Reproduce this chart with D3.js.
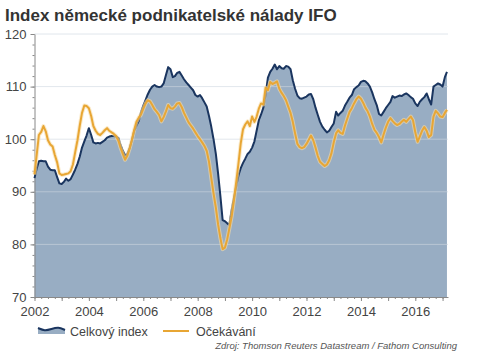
<!DOCTYPE html>
<html>
<head>
<meta charset="utf-8">
<script src="https://cdn.jsdelivr.net/npm/d3@7"></script>
<style>
  body { margin: 0; background: #fff; }
  svg { display: block; font-family: "Liberation Sans", Arial, sans-serif; }
  .axis text { font-size: 13px; fill: #444; }
  .axis path, .axis line { stroke: #888; }
</style>
</head>
<body>
<div id="chart"></div>
<script>
//////////
// DATA //
//////////

// monthly values, first month = January 2002
var firstMonth = new Date(2002, 0, 1);

var celkovyIndex = [
  92.6, 94.5, 95.8, 95.9, 95.8, 95.8, 94.8, 94.2, 94.1, 94.1, 92.8, 91.6,
  91.5, 91.9, 92.5, 92.1, 92.4, 93.3, 94.2, 95.3, 96.7, 98.4, 99.6, 100.7,
  102.1, 100.8, 99.4, 99.2, 99.3, 99.2, 99.5, 99.8, 100.3, 100.5, 100.6, 100.6,
  100.5, 100.2, 98.9, 97.8, 96.9, 97.2, 98.3, 99.8, 101.6, 102.6, 103.5, 105.1,
  106.4, 107.5, 108.5, 109.4, 110.0, 110.3, 110.0, 109.9, 110.0, 110.6, 112.2, 113.7,
  113.3, 111.8, 112.0, 112.6, 112.8, 112.1, 111.4, 110.8, 110.3, 109.8, 109.3, 108.4,
  108.1, 108.4, 107.8, 107.0, 106.2, 104.4, 102.4, 100.0, 97.2, 93.5, 89.2, 84.6,
  84.4, 84.0, 83.7, 86.5, 88.8, 91.0, 93.1, 94.5, 95.5, 96.3, 97.2, 97.6,
  98.4, 99.6, 101.5, 103.6, 104.7, 106.0, 108.5, 111.7, 112.8, 113.4, 114.2, 113.3,
  113.9, 113.5, 113.4, 113.9, 113.8, 113.3, 111.2, 109.6, 108.3, 107.8, 107.7, 107.9,
  108.1, 108.5, 108.6, 107.6, 106.0, 104.6, 103.3, 102.4, 101.8, 101.3, 101.6, 102.3,
  103.0, 105.2, 104.5, 105.0, 105.4, 106.4, 107.1, 107.9, 108.4, 109.5, 109.9, 110.2,
  110.9, 111.1, 111.0, 110.6, 110.0, 108.9, 107.6, 106.5, 104.8, 104.5, 105.2, 105.9,
  106.5, 107.1, 108.2, 107.9, 108.1, 108.3, 108.2, 108.5, 108.7, 108.4, 108.0, 107.7,
  106.8, 106.3, 107.1, 107.6, 108.0, 108.7, 107.6, 106.6, 110.0, 110.3, 110.6, 110.4,
  110.0, 111.8, 112.8
];

var ocekavani = [
  93.3, 97.2, 100.8, 101.4, 102.5, 101.5, 99.8, 99.0, 98.6, 97.0, 95.6, 93.5,
  93.2, 93.3, 93.4, 93.5, 93.9, 95.2, 97.5, 99.8, 102.6, 105.0, 106.4, 106.3,
  105.9, 104.4, 102.5, 101.6, 101.0, 100.8, 101.2, 101.7, 102.1, 101.6, 101.3, 101.0,
  100.6, 99.7, 98.4, 97.2, 96.1, 96.9, 98.2, 99.9, 101.8, 103.3, 104.1, 104.7,
  105.8, 106.8, 107.4, 107.2, 106.5, 105.7, 105.2, 104.6, 103.4, 104.2, 105.3, 106.5,
  105.9, 105.8, 106.2, 106.8, 106.9, 106.1, 105.0, 104.1, 103.2, 102.6, 102.0, 101.3,
  100.6, 100.0, 99.4, 98.7, 97.8, 95.7, 92.7, 89.7, 87.0, 83.8, 81.2, 79.1,
  79.4, 81.0, 83.0, 85.3, 88.3, 91.8, 95.3, 99.2, 101.9, 102.8, 103.4, 102.5,
  104.3, 103.3, 104.2, 105.8, 106.8, 106.6, 109.8, 109.3, 110.9, 110.5, 110.7, 111.0,
  109.6, 108.8, 108.2, 107.4, 106.2, 105.0, 103.3, 101.1, 99.1, 98.5, 98.3, 98.5,
  99.1, 99.9, 100.7, 99.8, 98.4, 96.8, 95.7, 95.3, 94.9, 95.2, 96.0, 97.3,
  99.4, 101.1, 101.7, 101.2, 101.0, 102.6, 103.9, 105.2, 105.9, 106.8, 107.6, 108.1,
  107.7, 106.9, 106.0, 105.3, 104.3, 102.9, 101.8, 101.2, 100.4, 99.4, 100.9, 102.2,
  103.3, 104.0, 103.5, 103.0, 102.7, 102.9, 103.3, 103.7, 103.3, 103.8, 104.3, 103.6,
  101.3, 99.5, 100.5, 101.6, 102.3, 101.6, 100.4, 100.8, 104.3, 105.4, 104.9, 104.3,
  104.2, 105.0, 105.6
];

var yTicks = [70, 80, 90, 100, 110, 120];
var xTickYears = [2002, 2004, 2006, 2008, 2010, 2012, 2014, 2016];
var seriesNames = ["Celkový index", "Očekávání"];

var titleText = "Index německé podnikatelské nálady IFO";
var sourceText = "Zdroj: Thomson Reuters Datastream / Fathom Consulting";

//////////////////////////////
// SVG AND GRAPH DIMENSIONS //
//////////////////////////////

var svgWidth = 500, svgHeight = 354;
var margin = { top: 34, right: 52, bottom: 57, left: 34.5 };
var width = svgWidth - margin.left - margin.right,
    height = svgHeight - margin.top - margin.bottom;

var svg = d3.select("#chart").append("svg")
  .attr("width", svgWidth)
  .attr("height", svgHeight);

svg.append("text")
  .attr("x", 5)
  .attr("y", 21)
  .style("font-size", "17px")
  .style("font-weight", "bold")
  .style("fill", "#333")
  .text(titleText);

var g = svg.append("g")
  .attr("transform", "translate(" + margin.left + "," + margin.top + ")");

var rows = celkovyIndex.map(function(v, i) {
  return { date: d3.timeMonth.offset(firstMonth, i), celk: v, ocek: ocekavani[i] };
});

//////////
// AXES //
//////////

var x = d3.scaleTime()
  .domain([firstMonth, new Date(2017, 2, 15)])
  .range([0, width]);

var y = d3.scaleLinear()
  .domain([70, 120])
  .range([height, 0]);

// area under the overall index
g.append("path")
  .datum(rows)
  .attr("fill", "#98adc3")
  .attr("d", d3.area()
    .x(function(d) { return x(d.date); })
    .y0(height)
    .y1(function(d) { return y(d.celk); }));

// gridlines
g.selectAll(".grid")
  .data(yTicks.slice(1))
  .enter().append("line")
  .attr("x1", 0)
  .attr("x2", width)
  .attr("y1", function(d) { return y(d); })
  .attr("y2", function(d) { return y(d); })
  .attr("stroke", "rgba(205,214,224,0.6)")
  .attr("stroke-width", 1);

// minor ticks first, then major ticks with labels
g.append("g")
  .attr("class", "axis")
  .attr("transform", "translate(0," + height + ")")
  .call(d3.axisBottom(x).ticks(d3.timeMonth.every(3)).tickSize(2).tickFormat(""))
  .call(function(s) { s.select(".domain").remove(); });

g.append("g")
  .attr("class", "axis")
  .attr("transform", "translate(0," + height + ")")
  .call(d3.axisBottom(x)
    .tickValues(d3.timeYear.range(firstMonth, new Date(2017, 2, 1)))
    .tickSize(4)
    .tickSizeOuter(0)
    .tickFormat(function(d) {
      var yr = d.getFullYear();
      return xTickYears.indexOf(yr) >= 0 ? yr : "";
    }))
  .call(function(s) { s.selectAll("text").attr("dy", "0.95em"); });

g.append("g")
  .attr("class", "axis")
  .call(d3.axisLeft(y).ticks(25).tickSize(2).tickFormat(""))
  .call(function(s) { s.select(".domain").remove(); });

g.append("g")
  .attr("class", "axis")
  .call(d3.axisLeft(y).tickValues(yTicks).tickSize(4).tickSizeOuter(0))
  .call(function(s) { s.selectAll("text").attr("x", -8); });

///////////
// LINES //
///////////

var lineCelk = d3.line()
  .x(function(d) { return x(d.date); })
  .y(function(d) { return y(d.celk); });

var lineOcek = d3.line()
  .x(function(d) { return x(d.date); })
  .y(function(d) { return y(d.ocek); });

g.append("path")
  .datum(rows)
  .attr("fill", "none")
  .attr("stroke", "#1a355f")
  .attr("stroke-width", 2)
  .attr("stroke-linejoin", "round")
  .attr("d", lineCelk);

// soft halo under the orange line
g.append("path")
  .datum(rows)
  .attr("fill", "none")
  .attr("stroke", "#f6dca6")
  .attr("stroke-width", 4)
  .attr("stroke-opacity", 0.6)
  .attr("stroke-linejoin", "round")
  .attr("d", lineOcek);

g.append("path")
  .datum(rows)
  .attr("fill", "none")
  .attr("stroke", "#e8a634")
  .attr("stroke-width", 2)
  .attr("stroke-linejoin", "round")
  .attr("d", lineOcek);

////////////
// LEGEND //
////////////

var legend = svg.append("g").attr("transform", "translate(38,331)");

// little wave icon for the area series
var waveX = d3.scaleLinear().domain([0, 4]).range([0, 27]);
var waveY = [-3, 0, -2, -4, -1];
legend.append("path")
  .datum(waveY)
  .attr("fill", "#98adc3")
  .attr("d", d3.area().x(function(d, i) { return waveX(i); }).y0(3).y1(function(d) { return d; }).curve(d3.curveBasis));
legend.append("path")
  .datum(waveY)
  .attr("fill", "none")
  .attr("stroke", "#1a355f")
  .attr("stroke-width", 2)
  .attr("d", d3.line().x(function(d, i) { return waveX(i); }).y(function(d) { return d; }).curve(d3.curveBasis));
legend.append("text")
  .attr("x", 32)
  .attr("y", 4.5)
  .style("font-size", "12.5px")
  .style("fill", "#444")
  .text(seriesNames[0]);

legend.append("line")
  .attr("x1", 125).attr("x2", 151)
  .attr("y1", 0).attr("y2", 0)
  .attr("stroke", "#e8a634")
  .attr("stroke-width", 2);
legend.append("text")
  .attr("x", 158)
  .attr("y", 4.5)
  .style("font-size", "12.5px")
  .style("fill", "#444")
  .text(seriesNames[1]);

svg.append("text")
  .attr("x", 457)
  .attr("y", 349)
  .style("text-anchor", "end")
  .style("font-size", "9.5px")
  .style("font-style", "italic")
  .style("fill", "#555")
  .text(sourceText);
</script>
</body>
</html>
